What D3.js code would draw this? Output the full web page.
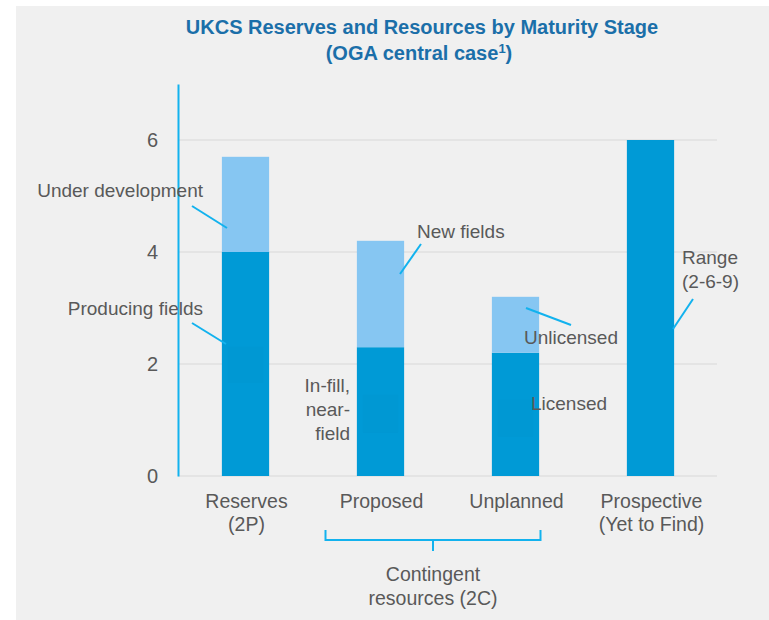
<!DOCTYPE html>
<html><head><meta charset="utf-8">
<script src="https://cdn.jsdelivr.net/npm/d3@7"></script>
<style>html,body{margin:0;padding:0;background:#fff;}svg{display:block;font-family:"Liberation Sans",Arial,sans-serif;}</style>
</head><body><svg id="c" width="769" height="620"></svg>
<script>
const categories = ["Reserves", "Proposed", "Unplanned", "Prospective"];
const categoryLines = [["Reserves","(2P)"],["Proposed"],["Unplanned"],["Prospective","(Yet to Find)"]];
const baseValues = [4.0, 2.3, 2.2, 6.0];
const upperValues = [1.7, 1.9, 1.0, 0];
const yTicks = [0, 2, 4, 6];
const baseLabels = ["Producing fields", "In-fill, near- field", "Licensed", "Range (2-6-9)"];
const upperLabels = ["Under development", "New fields", "Unlicensed", ""];

const svg = d3.select("#c");
const W = 769, H = 620;
const dark = "#009ad6", light = "#86c6f2", accent = "#12b2ee", textC = "#595959";

svg.append("rect").attr("x",16).attr("y",6).attr("width",W-16).attr("height",H-6).attr("fill","#f0f0f0");

// title
const title = svg.append("text").attr("text-anchor","middle").attr("fill","#1b6fa9")
  .attr("font-weight","bold").attr("font-size",20);
title.append("tspan").attr("x",422).attr("y",34).text("UKCS Reserves and Resources by Maturity Stage");
title.append("tspan").attr("x",419).attr("y",60).text("(OGA central case");
title.append("tspan").attr("font-size",13).attr("dy",-7).text("1");
title.append("tspan").attr("dy",7).text(")");

const x = d3.scaleBand().domain(categories).range([178, 718]).paddingInner(0.65).paddingOuter(0.325);
const y = d3.scaleLinear().domain([0, 7]).range([476, 84]);

// gridlines
svg.append("g").selectAll("line").data(yTicks).join("line")
  .attr("x1",178).attr("x2",717).attr("y1",d=>y(d)).attr("y2",d=>y(d))
  .attr("stroke","#e0e0e0").attr("stroke-width",1.5);

// y axis
const yAxis = d3.axisLeft(y).tickValues(yTicks).tickFormat(d3.format("d")).tickSize(0).tickPadding(20);
const ya = svg.append("g").attr("transform","translate(178,0)").call(yAxis);
ya.select(".domain").attr("stroke",accent).attr("stroke-width",2);
ya.selectAll("text").attr("font-size",20).attr("fill",textC).attr("font-family","Liberation Sans, Arial, sans-serif");

// bars
const bw = x.bandwidth();
svg.append("g").selectAll("rect").data(categories).join("rect")
  .attr("x",d=>x(d)).attr("width",bw)
  .attr("y",(d,i)=>y(baseValues[i])).attr("height",(d,i)=>y(0)-y(baseValues[i]))
  .attr("fill",dark);
svg.append("g").selectAll("rect").data(categories).join("rect")
  .attr("x",d=>x(d)).attr("width",bw)
  .attr("y",(d,i)=>y(baseValues[i]+upperValues[i])).attr("height",(d,i)=>y(baseValues[i])-y(baseValues[i]+upperValues[i]))
  .attr("fill",light);

// faint label-box artifacts inside bars
const shade = [[0,1.66,2.31],[1,0.77,1.45],[2,0.70,1.36]];
svg.append("g").selectAll("rect").data(shade).join("rect")
  .attr("x",d=>x(categories[d[0]])+6).attr("width",bw-12)
  .attr("y",d=>y(d[2])).attr("height",d=>y(d[1])-y(d[2]))
  .attr("fill","#0a5a7a").attr("opacity",0.03);

// x labels
const xl = svg.append("g").attr("fill",textC).attr("font-size",19.5).attr("text-anchor","middle");
categories.forEach((c,i)=>{
  const t = xl.append("text");
  categoryLines[i].forEach((s,j)=>t.append("tspan").attr("x",x(c)+bw/2+1).attr("y",508+j*23).text(s));
});

// bracket
const bx1 = x("Proposed")+bw/2-55, bx2 = x("Unplanned")+bw/2+25, bm = (bx1+bx2)/2;
svg.append("path").attr("d",`M${bx1},530 V540 H${bx2} V530 M${bm},540 V551`)
  .attr("fill","none").attr("stroke",accent).attr("stroke-width",2);
const ct = svg.append("text").attr("fill",textC).attr("font-size",19.5).attr("text-anchor","middle");
ct.append("tspan").attr("x",bm).attr("y",581).text("Contingent");
ct.append("tspan").attr("x",bm).attr("y",605).text("resources (2C)");

// annotations
const lab = svg.append("g").attr("fill",textC).attr("font-size",19);
function lines(xp, yp, arr, anchor){
  const t = lab.append("text").attr("text-anchor",anchor||"start");
  arr.forEach((s,j)=>t.append("tspan").attr("x",xp).attr("y",yp+j*24).text(s));
}
lines(203,197,[upperLabels[0]],"end");
lines(203,315,[baseLabels[0]],"end");
lines(417,238,[upperLabels[1]]);
lines(350,392,["In-fill,","near-","field"],"end");
lines(524,344,[upperLabels[2]]);
lines(531,410,[baseLabels[2]]);
lines(682,264,["Range","(2-6-9)"]);

const leaders = [
  [192,206,227,228],[192,323,226,344],[421,244,400,274],[526,308,571,325],[693,299,673,329]
];
svg.append("g").selectAll("line").data(leaders).join("line")
  .attr("x1",d=>d[0]).attr("y1",d=>d[1]).attr("x2",d=>d[2]).attr("y2",d=>d[3])
  .attr("stroke",accent).attr("stroke-width",2);
</script></body></html>
